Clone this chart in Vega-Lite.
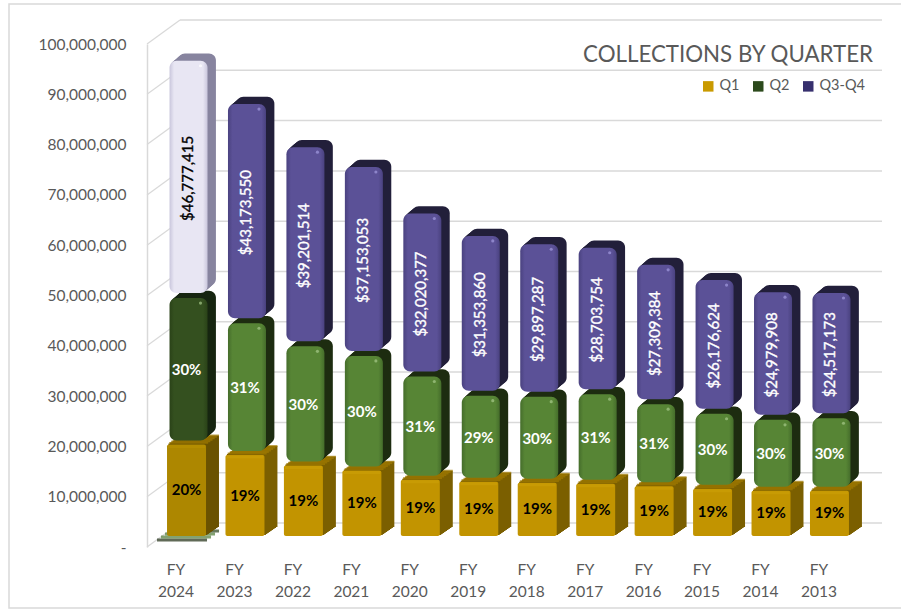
{"$schema":"https://vega.github.io/schema/vega-lite/v6.json","width":900,"height":604,"autosize":"none","padding":{"left":9,"top":4,"right":0,"bottom":1},"background":"white",
"view":{"stroke":"#d9d9d9","strokeWidth":1.5},
"title":{"text":"COLLECTIONS BY QUARTER","anchor":"end","frame":"group","offset":0,"dx":-36,"dy":80,"baseline":"alphabetic","font":"Lato","fontSize":22.3,"fontWeight":"normal","color":"#595959"},
"config":{"font":"Lato"},
"datasets":{"ticks":[{"t":0},{"t":10000000},{"t":20000000},{"t":30000000},{"t":40000000},{"t":50000000},{"t":60000000},{"t":70000000},{"t":80000000},{"t":90000000},{"t":100000000}]},
"data":{"values":[
{"fy":"FY 2024","series":"Q1","ord":1,"v":18200000,"label":"20%"},{"fy":"FY 2024","series":"Q2","ord":2,"v":29500000,"label":"30%"},{"fy":"FY 2024","series":"Q3-Q4","ord":3,"v":46777415,"label":"$46,777,415"},
{"fy":"FY 2023","series":"Q1","ord":1,"v":16100000,"label":"19%"},{"fy":"FY 2023","series":"Q2","ord":2,"v":26600000,"label":"31%"},{"fy":"FY 2023","series":"Q3-Q4","ord":3,"v":43173550,"label":"$43,173,550"},
{"fy":"FY 2022","series":"Q1","ord":1,"v":14000000,"label":"19%"},{"fy":"FY 2022","series":"Q2","ord":2,"v":24100000,"label":"30%"},{"fy":"FY 2022","series":"Q3-Q4","ord":3,"v":39201514,"label":"$39,201,514"},
{"fy":"FY 2021","series":"Q1","ord":1,"v":13000000,"label":"19%"},{"fy":"FY 2021","series":"Q2","ord":2,"v":23200000,"label":"30%"},{"fy":"FY 2021","series":"Q3-Q4","ord":3,"v":37153053,"label":"$37,153,053"},
{"fy":"FY 2020","series":"Q1","ord":1,"v":11200000,"label":"19%"},{"fy":"FY 2020","series":"Q2","ord":2,"v":20900000,"label":"31%"},{"fy":"FY 2020","series":"Q3-Q4","ord":3,"v":32020377,"label":"$32,020,377"},
{"fy":"FY 2019","series":"Q1","ord":1,"v":10800000,"label":"19%"},{"fy":"FY 2019","series":"Q2","ord":2,"v":17500000,"label":"29%"},{"fy":"FY 2019","series":"Q3-Q4","ord":3,"v":31353860,"label":"$31,353,860"},
{"fy":"FY 2018","series":"Q1","ord":1,"v":10600000,"label":"19%"},{"fy":"FY 2018","series":"Q2","ord":2,"v":17500000,"label":"30%"},{"fy":"FY 2018","series":"Q3-Q4","ord":3,"v":29897287,"label":"$29,897,287"},
{"fy":"FY 2017","series":"Q1","ord":1,"v":10400000,"label":"19%"},{"fy":"FY 2017","series":"Q2","ord":2,"v":18200000,"label":"31%"},{"fy":"FY 2017","series":"Q3-Q4","ord":3,"v":28703754,"label":"$28,703,754"},
{"fy":"FY 2016","series":"Q1","ord":1,"v":9900000,"label":"19%"},{"fy":"FY 2016","series":"Q2","ord":2,"v":16700000,"label":"31%"},{"fy":"FY 2016","series":"Q3-Q4","ord":3,"v":27309384,"label":"$27,309,384"},
{"fy":"FY 2015","series":"Q1","ord":1,"v":9400000,"label":"19%"},{"fy":"FY 2015","series":"Q2","ord":2,"v":15300000,"label":"30%"},{"fy":"FY 2015","series":"Q3-Q4","ord":3,"v":26176624,"label":"$26,176,624"},
{"fy":"FY 2014","series":"Q1","ord":1,"v":9000000,"label":"19%"},{"fy":"FY 2014","series":"Q2","ord":2,"v":14500000,"label":"30%"},{"fy":"FY 2014","series":"Q3-Q4","ord":3,"v":24979908,"label":"$24,979,908"},
{"fy":"FY 2013","series":"Q1","ord":1,"v":9000000,"label":"19%"},{"fy":"FY 2013","series":"Q2","ord":2,"v":14800000,"label":"30%"},{"fy":"FY 2013","series":"Q3-Q4","ord":3,"v":24517173,"label":"$24,517,173"}
]},
"transform":[{"stack":"v","groupby":["fy"],"sort":[{"field":"ord","order":"ascending"}],"as":["v0","v1"]},{"calculate":"(datum.v0+datum.v1)/2","as":"mid"}],
"layer":[
{"data":{"name":"ticks"},"transform":[],"encoding":{"y":{"field":"t","type":"quantitative","scale":{"domain":[0,100000000],"range":[543,40],"nice":false},"axis":{"orient":"left","offset":-138,"values":[0,10000000,20000000,30000000,40000000,50000000,60000000,70000000,80000000,90000000,100000000],"title":null,"grid":false,"ticks":false,"domain":true,"domainColor":"#d9d9d9","domainWidth":1.5,"labelPadding":21,"labelFont":"Lato","labelFontSize":15.5,"labelColor":"#595959","labelExpr":"datum.value==0?'-\u00a0\u00a0\u00a0':format(datum.value,',')"}}},
"layer":[
{"mark":{"type":"rule","x":171,"x2":873,"yOffset":-24,"color":"#d9d9d9","strokeWidth":1.5}},
{"mark":{"type":"point","shape":"M-1,0.727L1,-0.727","filled":false,"size":1089,"x":154.5,"yOffset":-12,"color":"#d9d9d9","strokeWidth":1.2,"opacity":1}}
]},
{"encoding":{"x":{"field":"fy","type":"nominal","sort":null,"scale":{"type":"band","domain":["FY 2024","FY 2023","FY 2022","FY 2021","FY 2020","FY 2019","FY 2018","FY 2017","FY 2016","FY 2015","FY 2014","FY 2013"],"range":[137.8,839.2],"paddingInner":0,"paddingOuter":0},"axis":{"orient":"bottom","offset":-61,"title":null,"domain":false,"ticks":false,"labelAngle":0,"labelPadding":15,"labelFont":"Lato","labelFontSize":15.5,"labelColor":"#595959","labelLineHeight":22,"labelExpr":"split(datum.label,' ')"}},
"y":{"field":"v1","type":"quantitative"},"y2":{"field":"v0"}},
"layer":[
{"mark":{"type":"bar","width":38,"opacity":0},"encoding":{"fill":{"field":"series","type":"nominal","scale":{"domain":["Q1","Q2","Q3-Q4"],"range":["#c99a00","#2c4a1c","#37306e"]},"legend":{"orient":"none","legendX":692,"legendY":75,"direction":"horizontal","columns":3,"title":null,"symbolType":"square","symbolSize":110,"symbolOpacity":1,"labelFont":"Lato","labelFontSize":14.5,"labelColor":"#595959","columnPadding":11,"labelOffset":4}}}},
{"transform":[{"filter":"datum.ord==1 && datum.fy=='FY 2024'"}],"encoding":{"y":{"datum":0,"type":"quantitative"},"y2":null},"layer":[
{"mark":{"type":"tick","size":50,"thickness":3,"color":"#1c2b10","xOffset":6,"yOffset":-7}},
{"mark":{"type":"tick","size":50,"thickness":3,"color":"#4f7a35","xOffset":10,"yOffset":-10}},
{"mark":{"type":"tick","size":50,"thickness":3,"color":"#4f7a35","xOffset":14,"yOffset":-13}},
{"mark":{"type":"tick","size":50,"thickness":3,"color":"#2a4018","xOffset":18,"yOffset":-16}}
]},
{"transform":[{"filter":"datum.ord==1"}],"encoding":{"fill":{"condition":{"test":"datum.fy=='FY 2024'","value":"#6a5200"},"value":"#7b5f00"}},"layer":[
{"mark":{"type":"bar","width":39,"xOffset":11.94,"yOffset":-12,"y2Offset":-12}},
{"mark":{"type":"bar","width":39,"xOffset":13.38,"yOffset":-13,"y2Offset":-13}},
{"mark":{"type":"bar","width":39,"xOffset":14.82,"yOffset":-14,"y2Offset":-14}},
{"mark":{"type":"bar","width":39,"xOffset":16.26,"yOffset":-15,"y2Offset":-15}},
{"mark":{"type":"bar","width":39,"xOffset":17.7,"yOffset":-16,"y2Offset":-16}},
{"mark":{"type":"bar","width":39,"xOffset":19.14,"yOffset":-17,"y2Offset":-17}},
{"mark":{"type":"bar","width":39,"xOffset":20.58,"yOffset":-18,"y2Offset":-18}},
{"mark":{"type":"bar","width":39,"xOffset":22.02,"yOffset":-19,"y2Offset":-19}},
{"mark":{"type":"bar","width":39,"xOffset":23.46,"yOffset":-20,"y2Offset":-20}},
{"encoding":{"y2":null,"fill":{"value":"#a17b00"}},"layer":[
{"mark":{"type":"tick","size":39,"thickness":1.8,"xOffset":12.66,"yOffset":-12.5}},
{"mark":{"type":"tick","size":39,"thickness":1.8,"xOffset":14.82,"yOffset":-14}},
{"mark":{"type":"tick","size":39,"thickness":1.8,"xOffset":16.98,"yOffset":-15.5}},
{"mark":{"type":"tick","size":39,"thickness":1.8,"xOffset":19.14,"yOffset":-17}},
{"mark":{"type":"tick","size":39,"thickness":1.8,"xOffset":21.3,"yOffset":-18.5}},
{"mark":{"type":"tick","size":39,"thickness":1.8,"xOffset":23.46,"yOffset":-20}}
]},
{"mark":{"type":"bar","width":39,"xOffset":10.5,"yOffset":-11,"y2Offset":-11,"cornerRadius":2},"encoding":{"fill":{"condition":{"test":"datum.fy=='FY 2024'","value":"#ad8700"},"value":"#c29400"}}},
{"mark":{"type":"tick","size":37,"thickness":3,"xOffset":10.5,"yOffset":-9},"encoding":{"y2":null,"fill":{"condition":{"test":"datum.fy=='FY 2024'","value":"#b79000"},"value":"#cb9e05"}}}
]},
{"transform":[{"filter":"datum.ord==2"}],"encoding":{"fill":{"condition":{"test":"datum.fy=='FY 2024'","value":"#162510"},"value":"#1d2c10"}},"layer":[
{"mark":{"type":"bar","width":38,"cornerRadius":7,"xOffset":13.9,"yOffset":-10.2,"y2Offset":-16.2}},
{"mark":{"type":"bar","width":38,"cornerRadius":7,"xOffset":15.3,"yOffset":-11.4,"y2Offset":-17.4}},
{"mark":{"type":"bar","width":38,"cornerRadius":7,"xOffset":16.7,"yOffset":-12.6,"y2Offset":-18.6}},
{"mark":{"type":"bar","width":38,"cornerRadius":7,"xOffset":18.1,"yOffset":-13.8,"y2Offset":-19.8}},
{"mark":{"type":"bar","width":38,"cornerRadius":7,"xOffset":19.5,"yOffset":-15,"y2Offset":-21}},
{"mark":{"type":"bar","width":38,"cornerRadius":7,"xOffset":20.9,"yOffset":-16.2,"y2Offset":-22.2}},
{"mark":{"type":"bar","width":38,"cornerRadius":7,"xOffset":12.5,"yOffset":-9,"y2Offset":-15},"encoding":{"fill":{"condition":{"test":"datum.fy=='FY 2024'","value":{"gradient":"linear","x1":0,"y1":0,"x2":1,"y2":0,"stops":[{"offset":0,"color":"#2a4218"},{"offset":0.12,"color":"#34501f"},{"offset":0.88,"color":"#34501f"},{"offset":1,"color":"#2a4218"}]}},"value":{"gradient":"linear","x1":0,"y1":0,"x2":1,"y2":0,"stops":[{"offset":0,"color":"#456d2b"},{"offset":0.12,"color":"#578535"},{"offset":0.88,"color":"#578535"},{"offset":1,"color":"#456d2b"}]}}}},
{"mark":{"type":"point","filled":true,"size":10,"xOffset":24.5,"yOffset":-4},"encoding":{"y2":null,"fill":{"value":"#a6c98a"}}}
]},
{"transform":[{"filter":"datum.ord==3"}],"encoding":{"fill":{"condition":{"test":"datum.fy=='FY 2024'","value":"#87849f"},"value":"#221f3a"}},"layer":[
{"mark":{"type":"bar","width":38,"cornerRadius":7,"xOffset":13.9,"yOffset":-12.2,"y2Offset":-15.2}},
{"mark":{"type":"bar","width":38,"cornerRadius":7,"xOffset":15.3,"yOffset":-13.4,"y2Offset":-16.4}},
{"mark":{"type":"bar","width":38,"cornerRadius":7,"xOffset":16.7,"yOffset":-14.6,"y2Offset":-17.6}},
{"mark":{"type":"bar","width":38,"cornerRadius":7,"xOffset":18.1,"yOffset":-15.8,"y2Offset":-18.8}},
{"mark":{"type":"bar","width":38,"cornerRadius":7,"xOffset":19.5,"yOffset":-17,"y2Offset":-20}},
{"mark":{"type":"bar","width":38,"cornerRadius":7,"xOffset":20.9,"yOffset":-18.2,"y2Offset":-21.2}},
{"mark":{"type":"bar","width":38,"cornerRadius":7,"xOffset":12.5,"yOffset":-11,"y2Offset":-14},"encoding":{"fill":{"condition":{"test":"datum.fy=='FY 2024'","value":{"gradient":"linear","x1":0,"y1":0,"x2":1,"y2":0,"stops":[{"offset":0,"color":"#c9c6dc"},{"offset":0.12,"color":"#e8e6f3"},{"offset":0.88,"color":"#e8e6f3"},{"offset":1,"color":"#c9c6dc"}]}},"value":{"gradient":"linear","x1":0,"y1":0,"x2":1,"y2":0,"stops":[{"offset":0,"color":"#4a4280"},{"offset":0.12,"color":"#5b5197"},{"offset":0.88,"color":"#5b5197"},{"offset":1,"color":"#4a4280"}]}}}},
{"mark":{"type":"point","filled":true,"size":10,"xOffset":24.5,"yOffset":-6},"encoding":{"y2":null,"fill":{"condition":{"test":"datum.fy=='FY 2024'","value":"#ffffff"},"value":"#a39be0"}}}
]},
{"encoding":{"y":{"field":"mid","type":"quantitative"},"y2":null,"text":{"field":"label"},"color":{"condition":{"test":"datum.ord==1 || datum.fy=='FY 2024' && datum.ord==3","value":"#000000"},"value":"#ffffff"}},"layer":[
{"transform":[{"filter":"datum.ord<3"}],"mark":{"type":"text","font":"Lato","fontSize":15,"fontWeight":"bold","align":"center","baseline":"middle","xOffset":10.5,"yOffset":-11}},
{"transform":[{"filter":"datum.ord==3"}],"mark":{"type":"text","font":"Lato","fontSize":15,"fontWeight":"normal","angle":270,"align":"center","baseline":"middle","xOffset":11.5,"yOffset":-11,"strokeWidth":0.35},"encoding":{"stroke":{"condition":{"test":"datum.fy=='FY 2024'","value":"#000000"},"value":"#ffffff"}}}
]}
]}
]}
